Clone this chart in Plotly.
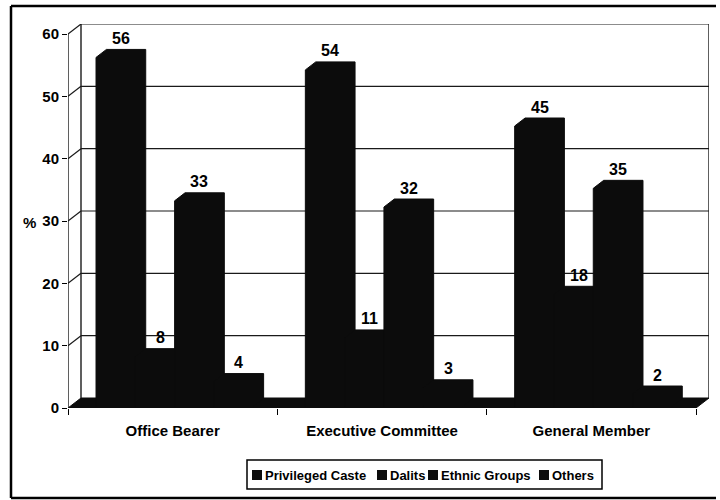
import plotly.graph_objects as go

# ---- data -------------------------------------------------------------
categories = ["Office Bearer", "Executive Committee", "General Member"]
series_names = ["Privileged Caste", "Dalits", "Ethnic Groups", "Others"]
privileged_caste = [56, 54, 45]
dalits = [8, 11, 18]
ethnic_groups = [33, 32, 35]
others = [4, 3, 2]
y_ticks = [0, 10, 20, 30, 40, 50, 60]

series_values = [privileged_caste, dalits, ethnic_groups, others]

# ---- figure geometry (pixels) -------------------------------------------
FIG_W, FIG_H = 720, 500
PLOT_L, PLOT_R, PLOT_T, PLOT_B = 68, 709, 24, 408
CAT_PX = 628 / 3.0            # pixels per category on the front plane
VAL_PX = 374 / 60.0           # pixels per percentage point
DEPTH_X_PX, DEPTH_Y_PX = 13, 10  # oblique depth of the floor / walls

X_MAX = (PLOT_R - PLOT_L) / CAT_PX
Y_MAX = (PLOT_B - PLOT_T) / VAL_PX
DX = DEPTH_X_PX / CAT_PX      # depth offset in x data units
DY = DEPTH_Y_PX / VAL_PX      # depth offset in y data units

BAR_W = 39.3 / CAT_PX         # front face width of one column
F0, F1 = 0.15, 0.95           # column front / back as fraction of depth

INK = "#0c0c0c"
LINE = "#1a1a1a"
FONT = "Liberation Sans, Arial, sans-serif"


def px_x(p):
    return (p - PLOT_L) / (PLOT_R - PLOT_L)


def px_y(p):
    return (PLOT_B - p) / (PLOT_B - PLOT_T)


fig = go.Figure()

# ---- 3-D columns: silhouette of each box drawn as a filled hexagon -------
label_annotations = []
n_series = len(series_values)
for k, (name, vals) in enumerate(zip(series_names, series_values)):
    xs, ys = [], []
    for i, v in enumerate(vals):
        x0 = i + 0.5 - n_series / 2 * BAR_W + k * BAR_W + F0 * DX
        x1 = x0 + BAR_W
        yb = F0 * DY
        ddx, ddy = (F1 - F0) * DX, (F1 - F0) * DY
        top = v + yb
        xs += [x0, x1, x1 + ddx, x1 + ddx, x0 + ddx, x0, x0, None]
        ys += [yb, yb, yb + ddy, top + ddy, top + ddy, top, yb, None]
        label_annotations.append(dict(
            x=(x0 + x1) / 2 + ddx / 2, y=top + ddy,
            xref="x", yref="y", text=str(v), showarrow=False,
            xanchor="center", yanchor="middle", yshift=11,
            font=dict(family=FONT, size=16, color="black", weight="bold"),
        ))
    fig.add_trace(go.Scatter(
        x=xs, y=ys, name=name, mode="lines", fill="toself",
        fillcolor=INK, line=dict(color=INK, width=1),
        showlegend=False, hoverinfo="skip",
    ))

# ---- walls, floor and gridlines -----------------------------------------
shapes = []
# black floor
shapes.append(dict(
    type="path", xref="x", yref="y", layer="below",
    path=f"M 0,0 L 3,0 L {3 + DX},{DY} L {DX},{DY} Z",
    fillcolor=INK, line=dict(color=INK, width=1),
))
for t in y_ticks[1:]:
    # back-wall gridline
    shapes.append(dict(type="line", xref="x", yref="y", layer="below",
                       x0=DX, x1=3 + DX, y0=t + DY, y1=t + DY,
                       line=dict(color=LINE, width=1.2)))
    # side-wall diagonal
    shapes.append(dict(type="line", xref="x", yref="y", layer="below",
                       x0=0, x1=DX, y0=t, y1=t + DY,
                       line=dict(color=LINE, width=1.2)))
# back-wall verticals and front value axis
for xv in (DX, 3 + DX):
    shapes.append(dict(type="line", xref="x", yref="y", layer="below",
                       x0=xv, x1=xv, y0=DY, y1=60 + DY,
                       line=dict(color=LINE, width=1.4)))
shapes.append(dict(type="line", xref="x", yref="y", layer="below",
                   x0=0, x1=0, y0=0, y1=60, line=dict(color=LINE, width=1.4)))

# outer frame: left, top and bottom edges, open on the right
fx0, fx1 = px_x(11), px_x(716)
fy0, fy1 = px_y(498), px_y(6)
for seg in ((fx0, fy1, fx1, fy1), (fx0, fy0, fx1, fy0), (fx0, fy0, fx0, fy1)):
    shapes.append(dict(type="line", xref="paper", yref="paper",
                       x0=seg[0], y0=seg[1], x1=seg[2], y1=seg[3],
                       line=dict(color="black", width=2.5)))

# ---- legend (boxed row of square keys) ------------------------------------
LEG_Y = 475
shapes.append(dict(type="rect", xref="paper", yref="paper",
                   x0=px_x(247), x1=px_x(602), y0=px_y(489), y1=px_y(460),
                   line=dict(color="black", width=1.5)))
legend_x = [252, 377, 428, 539]
legend_annotations = []
for name, lx in zip(series_names, legend_x):
    shapes.append(dict(type="rect", xref="paper", yref="paper",
                       x0=px_x(lx), x1=px_x(lx + 10),
                       y0=px_y(LEG_Y + 5), y1=px_y(LEG_Y - 5),
                       fillcolor=INK, line=dict(width=0)))
    legend_annotations.append(dict(
        x=px_x(lx + 11), y=px_y(LEG_Y), xref="paper", yref="paper",
        text=name, showarrow=False, xanchor="left", yanchor="middle",
        font=dict(family=FONT, size=13, color="black", weight="bold"),
    ))

axis_title = dict(
    x=px_x(29), y=px_y(222), xref="paper", yref="paper", text="%",
    showarrow=False, xanchor="center", yanchor="middle",
    font=dict(family=FONT, size=15, color="black", weight="bold"),
)

fig.update_layout(
    width=FIG_W, height=FIG_H,
    margin=dict(l=PLOT_L, r=FIG_W - PLOT_R, t=PLOT_T, b=FIG_H - PLOT_B),
    paper_bgcolor="white", plot_bgcolor="white",
    showlegend=False,
    shapes=shapes,
    annotations=label_annotations + legend_annotations + [axis_title],
    xaxis=dict(
        range=[0, X_MAX], showgrid=False, zeroline=False, showline=False,
        tickmode="array", tickvals=[i + 0.5 for i in range(len(categories))],
        ticktext=categories, ticks="", ticklabelstandoff=12,
        tickfont=dict(family=FONT, size=15, color="black", weight="bold"),
        minor=dict(tickmode="array", tickvals=[0, 1, 2, 3], ticks="outside",
                   ticklen=6, tickcolor="black", tickwidth=1.3, showgrid=False),
        fixedrange=True,
    ),
    yaxis=dict(
        range=[0, Y_MAX], showgrid=False, zeroline=False, showline=False,
        tickmode="array", tickvals=y_ticks, ticks="outside", ticklen=5,
        tickcolor="black", tickwidth=1.3,
        tickfont=dict(family=FONT, size=15, color="black", weight="bold"),
        fixedrange=True,
    ),
)

fig.write_html("out.html")
